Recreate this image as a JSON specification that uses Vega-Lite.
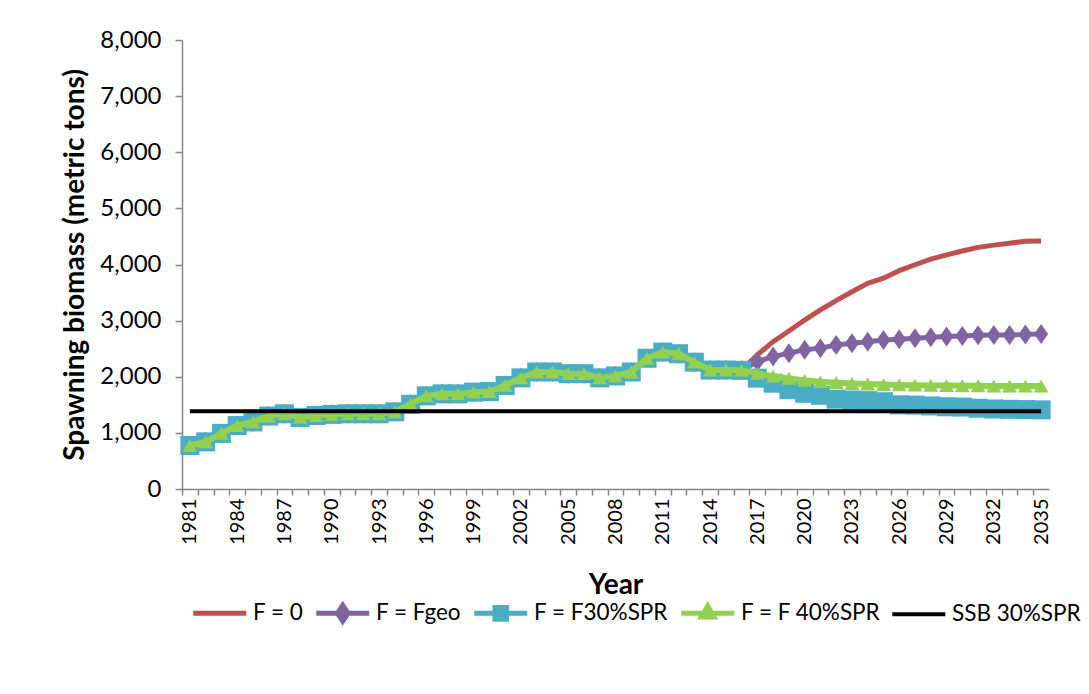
{
  "$schema": "https://vega.github.io/schema/vega-lite/v6.json",
  "width": 867,
  "height": 449,
  "autosize": {"type": "none"},
  "padding": {"left": 182, "top": 40, "right": 40, "bottom": 205},
  "background": "white",
  "config": {
    "font": "Lato",
    "view": {"stroke": null},
    "axis": {"grid": false, "domainColor": "#868686", "domainWidth": 1.5, "tickColor": "#868686", "tickWidth": 1.5, "labelColor": "#000000", "titleColor": "#000000"}
  },
  "data": {
    "values": [
      {"year": 1981, "F = 0": 775, "F = Fgeo": 775, "F = F30%SPR": 775, "F = F 40%SPR": 775, "SSB 30%SPR": 1385},
      {"year": 1982, "F = 0": 840, "F = Fgeo": 840, "F = F30%SPR": 840, "F = F 40%SPR": 840, "SSB 30%SPR": 1385},
      {"year": 1983, "F = 0": 990, "F = Fgeo": 990, "F = F30%SPR": 990, "F = F 40%SPR": 990, "SSB 30%SPR": 1385},
      {"year": 1984, "F = 0": 1130, "F = Fgeo": 1130, "F = F30%SPR": 1130, "F = F 40%SPR": 1130, "SSB 30%SPR": 1385},
      {"year": 1985, "F = 0": 1195, "F = Fgeo": 1195, "F = F30%SPR": 1195, "F = F 40%SPR": 1195, "SSB 30%SPR": 1385},
      {"year": 1986, "F = 0": 1300, "F = Fgeo": 1300, "F = F30%SPR": 1300, "F = F 40%SPR": 1300, "SSB 30%SPR": 1385},
      {"year": 1987, "F = 0": 1340, "F = Fgeo": 1340, "F = F30%SPR": 1340, "F = F 40%SPR": 1340, "SSB 30%SPR": 1385},
      {"year": 1988, "F = 0": 1275, "F = Fgeo": 1275, "F = F30%SPR": 1275, "F = F 40%SPR": 1275, "SSB 30%SPR": 1385},
      {"year": 1989, "F = 0": 1310, "F = Fgeo": 1310, "F = F30%SPR": 1310, "F = F 40%SPR": 1310, "SSB 30%SPR": 1385},
      {"year": 1990, "F = 0": 1330, "F = Fgeo": 1330, "F = F30%SPR": 1330, "F = F 40%SPR": 1330, "SSB 30%SPR": 1385},
      {"year": 1991, "F = 0": 1340, "F = Fgeo": 1340, "F = F30%SPR": 1340, "F = F 40%SPR": 1340, "SSB 30%SPR": 1385},
      {"year": 1992, "F = 0": 1340, "F = Fgeo": 1340, "F = F30%SPR": 1340, "F = F 40%SPR": 1340, "SSB 30%SPR": 1385},
      {"year": 1993, "F = 0": 1340, "F = Fgeo": 1340, "F = F30%SPR": 1340, "F = F 40%SPR": 1340, "SSB 30%SPR": 1385},
      {"year": 1994, "F = 0": 1375, "F = Fgeo": 1375, "F = F30%SPR": 1375, "F = F 40%SPR": 1375, "SSB 30%SPR": 1385},
      {"year": 1995, "F = 0": 1510, "F = Fgeo": 1510, "F = F30%SPR": 1510, "F = F 40%SPR": 1510, "SSB 30%SPR": 1385},
      {"year": 1996, "F = 0": 1660, "F = Fgeo": 1660, "F = F30%SPR": 1660, "F = F 40%SPR": 1660, "SSB 30%SPR": 1385},
      {"year": 1997, "F = 0": 1695, "F = Fgeo": 1695, "F = F30%SPR": 1695, "F = F 40%SPR": 1695, "SSB 30%SPR": 1385},
      {"year": 1998, "F = 0": 1695, "F = Fgeo": 1695, "F = F30%SPR": 1695, "F = F 40%SPR": 1695, "SSB 30%SPR": 1385},
      {"year": 1999, "F = 0": 1725, "F = Fgeo": 1725, "F = F30%SPR": 1725, "F = F 40%SPR": 1725, "SSB 30%SPR": 1385},
      {"year": 2000, "F = 0": 1735, "F = Fgeo": 1735, "F = F30%SPR": 1735, "F = F 40%SPR": 1735, "SSB 30%SPR": 1385},
      {"year": 2001, "F = 0": 1845, "F = Fgeo": 1845, "F = F30%SPR": 1845, "F = F 40%SPR": 1845, "SSB 30%SPR": 1385},
      {"year": 2002, "F = 0": 1980, "F = Fgeo": 1980, "F = F30%SPR": 1980, "F = F 40%SPR": 1980, "SSB 30%SPR": 1385},
      {"year": 2003, "F = 0": 2085, "F = Fgeo": 2085, "F = F30%SPR": 2085, "F = F 40%SPR": 2085, "SSB 30%SPR": 1385},
      {"year": 2004, "F = 0": 2085, "F = Fgeo": 2085, "F = F30%SPR": 2085, "F = F 40%SPR": 2085, "SSB 30%SPR": 1385},
      {"year": 2005, "F = 0": 2055, "F = Fgeo": 2055, "F = F30%SPR": 2055, "F = F 40%SPR": 2055, "SSB 30%SPR": 1385},
      {"year": 2006, "F = 0": 2055, "F = Fgeo": 2055, "F = F30%SPR": 2055, "F = F 40%SPR": 2055, "SSB 30%SPR": 1385},
      {"year": 2007, "F = 0": 1980, "F = Fgeo": 1980, "F = F30%SPR": 1980, "F = F 40%SPR": 1980, "SSB 30%SPR": 1385},
      {"year": 2008, "F = 0": 2015, "F = Fgeo": 2015, "F = F30%SPR": 2015, "F = F 40%SPR": 2015, "SSB 30%SPR": 1385},
      {"year": 2009, "F = 0": 2085, "F = Fgeo": 2085, "F = F30%SPR": 2085, "F = F 40%SPR": 2085, "SSB 30%SPR": 1385},
      {"year": 2010, "F = 0": 2330, "F = Fgeo": 2330, "F = F30%SPR": 2330, "F = F 40%SPR": 2330, "SSB 30%SPR": 1385},
      {"year": 2011, "F = 0": 2440, "F = Fgeo": 2440, "F = F30%SPR": 2440, "F = F 40%SPR": 2440, "SSB 30%SPR": 1385},
      {"year": 2012, "F = 0": 2410, "F = Fgeo": 2410, "F = F30%SPR": 2410, "F = F 40%SPR": 2410, "SSB 30%SPR": 1385},
      {"year": 2013, "F = 0": 2260, "F = Fgeo": 2260, "F = F30%SPR": 2260, "F = F 40%SPR": 2260, "SSB 30%SPR": 1385},
      {"year": 2014, "F = 0": 2120, "F = Fgeo": 2120, "F = F30%SPR": 2120, "F = F 40%SPR": 2120, "SSB 30%SPR": 1385},
      {"year": 2015, "F = 0": 2120, "F = Fgeo": 2120, "F = F30%SPR": 2120, "F = F 40%SPR": 2120, "SSB 30%SPR": 1385},
      {"year": 2016, "F = 0": 2115, "F = Fgeo": 2115, "F = F30%SPR": 2115, "F = F 40%SPR": 2115, "SSB 30%SPR": 1385},
      {"year": 2017, "F = 0": 2390, "F = Fgeo": 2270, "F = F30%SPR": 1975, "F = F 40%SPR": 2060, "SSB 30%SPR": 1385},
      {"year": 2018, "F = 0": 2625, "F = Fgeo": 2360, "F = F30%SPR": 1885, "F = F 40%SPR": 2010, "SSB 30%SPR": 1385},
      {"year": 2019, "F = 0": 2815, "F = Fgeo": 2420, "F = F30%SPR": 1770, "F = F 40%SPR": 1970, "SSB 30%SPR": 1385},
      {"year": 2020, "F = 0": 3010, "F = Fgeo": 2480, "F = F30%SPR": 1705, "F = F 40%SPR": 1935, "SSB 30%SPR": 1385},
      {"year": 2021, "F = 0": 3190, "F = Fgeo": 2510, "F = F30%SPR": 1670, "F = F 40%SPR": 1910, "SSB 30%SPR": 1385},
      {"year": 2022, "F = 0": 3355, "F = Fgeo": 2565, "F = F30%SPR": 1600, "F = F 40%SPR": 1895, "SSB 30%SPR": 1385},
      {"year": 2023, "F = 0": 3515, "F = Fgeo": 2595, "F = F30%SPR": 1585, "F = F 40%SPR": 1880, "SSB 30%SPR": 1385},
      {"year": 2024, "F = 0": 3665, "F = Fgeo": 2625, "F = F30%SPR": 1575, "F = F 40%SPR": 1870, "SSB 30%SPR": 1385},
      {"year": 2025, "F = 0": 3755, "F = Fgeo": 2655, "F = F30%SPR": 1555, "F = F 40%SPR": 1860, "SSB 30%SPR": 1385},
      {"year": 2026, "F = 0": 3890, "F = Fgeo": 2670, "F = F30%SPR": 1500, "F = F 40%SPR": 1855, "SSB 30%SPR": 1385},
      {"year": 2027, "F = 0": 3995, "F = Fgeo": 2685, "F = F30%SPR": 1495, "F = F 40%SPR": 1850, "SSB 30%SPR": 1385},
      {"year": 2028, "F = 0": 4095, "F = Fgeo": 2705, "F = F30%SPR": 1480, "F = F 40%SPR": 1845, "SSB 30%SPR": 1385},
      {"year": 2029, "F = 0": 4170, "F = Fgeo": 2715, "F = F30%SPR": 1465, "F = F 40%SPR": 1842, "SSB 30%SPR": 1385},
      {"year": 2030, "F = 0": 4240, "F = Fgeo": 2725, "F = F30%SPR": 1460, "F = F 40%SPR": 1840, "SSB 30%SPR": 1385},
      {"year": 2031, "F = 0": 4305, "F = Fgeo": 2740, "F = F30%SPR": 1440, "F = F 40%SPR": 1838, "SSB 30%SPR": 1385},
      {"year": 2032, "F = 0": 4345, "F = Fgeo": 2745, "F = F30%SPR": 1425, "F = F 40%SPR": 1836, "SSB 30%SPR": 1385},
      {"year": 2033, "F = 0": 4380, "F = Fgeo": 2745, "F = F30%SPR": 1420, "F = F 40%SPR": 1835, "SSB 30%SPR": 1385},
      {"year": 2034, "F = 0": 4415, "F = Fgeo": 2755, "F = F30%SPR": 1415, "F = F 40%SPR": 1834, "SSB 30%SPR": 1385},
      {"year": 2035, "F = 0": 4420, "F = Fgeo": 2760, "F = F30%SPR": 1410, "F = F 40%SPR": 1833, "SSB 30%SPR": 1385}
    ]
  },
  "transform": [
    {"fold": ["F = 0", "F = Fgeo", "F = F30%SPR", "F = F 40%SPR", "SSB 30%SPR"], "as": ["series", "value"]}
  ],
  "encoding": {
    "x": {
      "field": "year", "type": "quantitative",
      "scale": {"domain": [1980.5, 2035.5], "nice": false, "zero": false},
      "axis": {
        "title": "Year", "titleFontSize": 28, "titleFontWeight": "bold", "titlePadding": 27,
        "values": [1981,1982,1983,1984,1985,1986,1987,1988,1989,1990,1991,1992,1993,1994,1995,1996,1997,1998,1999,2000,2001,2002,2003,2004,2005,2006,2007,2008,2009,2010,2011,2012,2013,2014,2015,2016,2017,2018,2019,2020,2021,2022,2023,2024,2025,2026,2027,2028,2029,2030,2031,2032,2033,2034,2035,2036],
        "labelExpr": "((datum.value - 1981) % 3 === 0 && datum.value <= 2035) ? ('' + datum.value) : ''",
        "tickOffset": -7.88, "labelOffset": 7.88, "tickSize": 6,
        "labelAngle": 270, "labelAlign": "right", "labelBaseline": "middle",
        "labelFontSize": 20, "labelPadding": 3, "labelOverlap": false, "labelBound": false, "labelFlush": false
      }
    },
    "y": {
      "field": "value", "type": "quantitative",
      "scale": {"domain": [0, 8000], "nice": false},
      "axis": {
        "title": "Spawning biomass (metric tons)", "titleFontSize": 28, "titleFontWeight": "bold", "titlePadding": 10,
        "values": [0,1000,2000,3000,4000,5000,6000,7000,8000], "format": ",.0f",
        "labelFontSize": 24, "labelPadding": 14, "tickSize": 7
      }
    },
    "color": {
      "field": "series", "type": "nominal",
      "scale": {
        "domain": ["F = 0", "F = Fgeo", "F = F30%SPR", "F = F 40%SPR", "SSB 30%SPR"],
        "range": ["#C0504D", "#8064A2", "#4BACC6", "#92D050", "#000000"]
      },
      "legend": {
        "title": null, "orient": "none", "legendX": 26.5, "legendY": 562, "direction": "horizontal",
        "symbolSize": 2809, "symbolStrokeWidth": 5, "labelFontSize": 22.5, "labelColor": "#000000",
        "labelOffset": 22, "columnPadding": 2, "labelLimit": 400, "padding": 0,
        "encode": {
          "symbols": {
            "update": {
              "shape": {"signal": "datum.value === 'F = Fgeo' ? 'M0,-0.4M0,0.4M-1,0H1M0,-0.3L0.2,0L0,0.3L-0.2,0Z' : datum.value === 'F = F30%SPR' ? 'M0,-0.4M0,0.4M-1,0H1M-0.22,-0.22H0.22V0.22H-0.22Z' : datum.value === 'F = F 40%SPR' ? 'M0,-0.4M0,0.4M-1,0H1M0,-0.28L0.24,0.14H-0.24Z' : 'M0,-0.4M0,0.4M-1,0H1'"},
              "fill": {"scale": "color", "field": "value"},
              "stroke": {"scale": "color", "field": "value"},
              "strokeWidth": {"signal": "datum.value === 'SSB 30%SPR' ? 4 : 5"},
              "opacity": {"value": 1}
            }
          }
        }
      }
    }
  },
  "layer": [
    {"transform": [{"filter": "datum.series === 'F = 0'"}], "mark": {"type": "line", "strokeWidth": 5}},
    {"transform": [{"filter": "datum.series === 'F = Fgeo'"}], "mark": {"type": "line", "strokeWidth": 5}},
    {"transform": [{"filter": "datum.series === 'F = Fgeo'"}], "mark": {"type": "point", "filled": true, "opacity": 1, "shape": "M0,-1L0.7,0L0,1L-0.7,0Z", "size": 400}},
    {"transform": [{"filter": "datum.series === 'F = F30%SPR'"}], "mark": {"type": "line", "strokeWidth": 5}},
    {"transform": [{"filter": "datum.series === 'F = F30%SPR'"}], "mark": {"type": "point", "filled": true, "opacity": 1, "shape": "square", "size": 361}},
    {"transform": [{"filter": "datum.series === 'F = F 40%SPR'"}], "mark": {"type": "line", "strokeWidth": 6}},
    {"transform": [{"filter": "datum.series === 'F = F 40%SPR'"}], "mark": {"type": "point", "filled": true, "opacity": 1, "shape": "triangle-up", "size": 220}},
    {"transform": [{"filter": "datum.series === 'SSB 30%SPR'"}], "mark": {"type": "line", "strokeWidth": 4}}
  ]
}
